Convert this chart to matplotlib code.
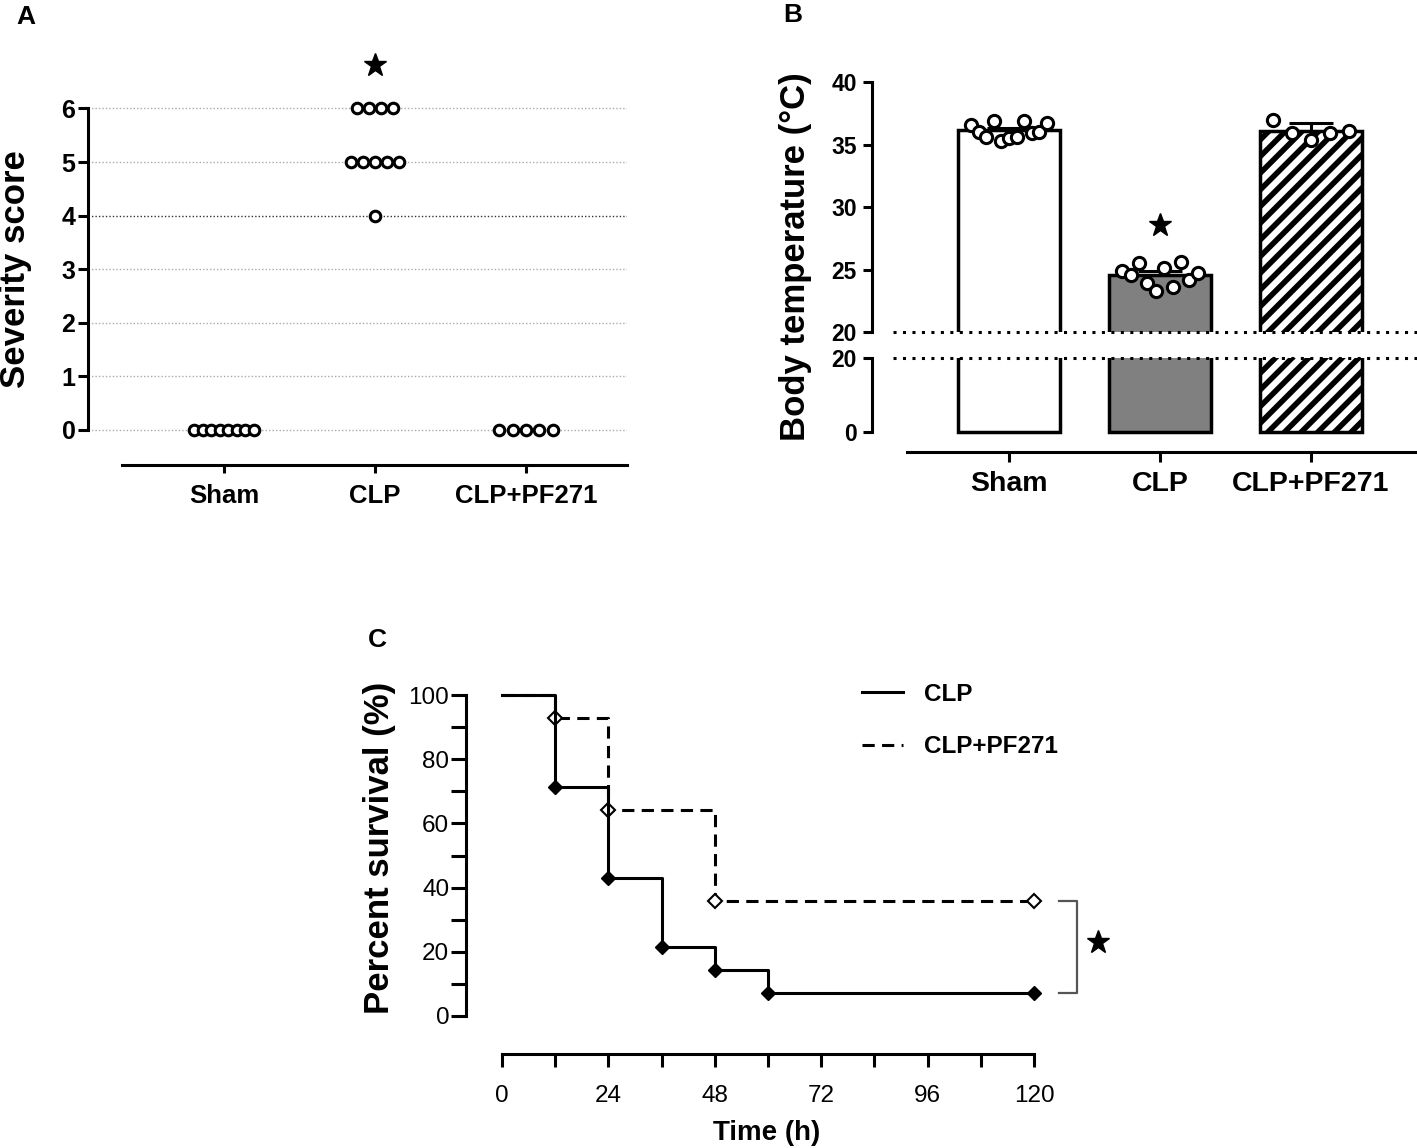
import matplotlib
matplotlib.use('Agg')
import matplotlib.pyplot as plt
import numpy as np
from matplotlib.lines import Line2D

plt.rcParams['font.family'] = ['Liberation Sans', 'DejaVu Sans']
plt.rcParams['hatch.linewidth'] = 4.0

# ------------------------- data -------------------------
# Panel A: severity score
a_groups = ['Sham', 'CLP', 'CLP+PF271']
a_sham = [0, 0, 0, 0, 0, 0, 0, 0]
a_clp = [6, 6, 6, 6, 5, 5, 5, 5, 5, 4]
a_pf = [0, 0, 0, 0, 0]
a_yticks = [0, 1, 2, 3, 4, 5, 6]

# Panel B: body temperature
b_groups = ['Sham', 'CLP', 'CLP+PF271']
b_sham = [36.6, 36.0, 35.6, 36.9, 35.3, 35.5, 35.6, 36.9, 35.9, 36.0, 36.7]
b_clp = [24.9, 24.6, 25.5, 23.9, 23.3, 25.1, 23.6, 25.6, 24.2, 24.7]
b_pf = [37.0, 35.9, 35.4, 35.9, 36.1]
b_means = [36.15, 24.6, 36.1]
b_err = [0.15, 0.3, 0.6]
b_upper_ticks = [20, 25, 30, 35, 40]
b_lower_ticks = [0, 20]

# Panel C: survival
c_clp_t = [0, 12, 24, 36, 48, 60, 120]
c_clp_s = [100, 71.4, 42.9, 21.4, 14.3, 7.1, 7.1]
c_pf_t = [0, 12, 24, 48, 120]
c_pf_s = [100, 92.9, 64.3, 35.7, 35.7]
c_xticks = [0, 24, 48, 72, 96, 120]
c_xminor = [12, 36, 60, 84, 108]
c_yticks = [0, 20, 40, 60, 80, 100]
c_yminor = [10, 30, 50, 70, 90]
c_labels = ['CLP', 'CLP+PF271']

# ------------------------- layout helpers -------------------------
W, H, DPI = 1417, 1148, 100
fig = plt.figure(figsize=(W / DPI, H / DPI), dpi=DPI)


def px_axes(l, t, r, b):
    return fig.add_axes([l / W, 1 - b / H, (r - l) / W, (b - t) / H])


def ftext(x, y, s, **kw):
    fig.text(x / W, 1 - y / H, s, **kw)


LW = 2.2
BOLD = dict(fontweight='bold')

# ------------------------- Panel A -------------------------
A_X0, A_DX = 224, 151.0
A_Y0, A_DY = 430, 53.6
axA = px_axes(88, 40, 627, 465)
axA.set_xlim((88 - A_X0) / A_DX, (627 - A_X0) / A_DX)
axA.set_ylim(-(465 - A_Y0) / A_DY, (A_Y0 - 40) / A_DY)
for s in ('top', 'right'):
    axA.spines[s].set_visible(False)
axA.spines['left'].set_linewidth(LW)
axA.spines['bottom'].set_linewidth(LW)
axA.spines['left'].set_bounds(0, 6)
axA.spines['bottom'].set_bounds((122 - A_X0) / A_DX, (627 - A_X0) / A_DX)
axA.set_yticks(a_yticks)
axA.set_yticklabels([str(v) for v in a_yticks], fontsize=18, **BOLD)
axA.set_xticks(range(3))
axA.set_xticklabels(a_groups, fontsize=18.5, **BOLD)
axA.tick_params(axis='y', length=7.5, width=LW, pad=1.5)
axA.tick_params(axis='x', length=6, width=LW, pad=8)
for v in a_yticks:
    axA.axhline(v, color='#333333' if v == 4 else '#aaaaaa', lw=1.0,
                ls=(0, (1, 1.5)), zorder=0)
a_steps = [0.056, 0.08, 0.089]
for i, (vals, step) in enumerate(zip([a_sham, a_clp, a_pf], a_steps)):
    vals = np.array(vals)
    for v in np.unique(vals):
        n = int(np.sum(vals == v))
        offs = (np.arange(n) - (n - 1) / 2) * step
        axA.plot(i + offs, np.full(n, v), 'o', mfc='white', mec='black',
                 ms=7.6, mew=2.2, ls='none', zorder=3, clip_on=False)
axA.plot(1, max(a_clp) + 0.81, marker='*', ms=17, color='black', ls='none')

# ------------------------- Panel B -------------------------
B_X0, B_DX = 1009, 151.0
axBu = px_axes(872, 40, 1417, 332)
axBl = px_axes(872, 358, 1417, 452)
bxl = ((872 - B_X0) / B_DX, (1417 - B_X0) / B_DX)
axBu.set_xlim(*bxl)
axBl.set_xlim(*bxl)
axBu.set_ylim(20, 20 + (332 - 40) / 12.5)
axBl.set_ylim(-(452 - 432) / 3.7, 20)

fills = ['white', '#808080', 'white']
hatches = ['', '', '//']
for ax in (axBu, axBl):
    bars = ax.bar(range(3), b_means, width=0.67, color=fills,
                  edgecolor='black', linewidth=2.5, zorder=2)
    for b, h in zip(bars, hatches):
        b.set_hatch(h)
    for s in ('top', 'right'):
        ax.spines[s].set_visible(False)
    ax.spines['left'].set_linewidth(LW)
    ax.spines['bottom'].set_linewidth(LW)

axBu.spines['bottom'].set_visible(False)
axBu.spines['left'].set_bounds(20, 40)
axBu.set_xticks([])
axBu.set_yticks(b_upper_ticks)
axBu.set_yticklabels([str(v) for v in b_upper_ticks], fontsize=16.5, **BOLD)
axBu.tick_params(axis='y', length=6.5, width=LW, pad=4.3)

axBl.spines['left'].set_bounds(0, 20)
axBl.spines['bottom'].set_bounds((907 - B_X0) / B_DX, bxl[1])
axBl.set_yticks(b_lower_ticks)
axBl.set_yticklabels([str(v) for v in b_lower_ticks], fontsize=16.5, **BOLD)
axBl.tick_params(axis='y', length=6.5, width=LW, pad=4.3)
axBl.set_xticks(range(3))
axBl.set_xticklabels(b_groups, fontsize=20.5, **BOLD)
axBl.tick_params(axis='x', length=7.5, width=LW, pad=6)

dot_x0 = (893 - 872) / (1417 - 872)
axBu.axhline(20, xmin=dot_x0, xmax=1, color='black', lw=2.2,
             ls=(0, (1, 2.1)), clip_on=False, zorder=5)
axBl.axhline(20, xmin=dot_x0, xmax=1, color='black', lw=2.2,
             ls=(0, (1, 2.1)), clip_on=False, zorder=5)

axBu.errorbar(range(3), b_means, yerr=[np.zeros(3), b_err], fmt='none',
              ecolor='black', elinewidth=2.2, capsize=16, capthick=2.2, zorder=3)
for i, vals in enumerate([b_sham, b_clp, b_pf]):
    n = len(vals)
    offs = np.linspace(-0.25, 0.25, n)
    axBu.plot(i + offs, vals, 'o', mfc='white', mec='black', ms=8.8, mew=2.2,
              ls='none', zorder=4)
axBu.plot(1, b_means[1] + 3.95, marker='*', ms=17, color='black', ls='none')

# ------------------------- Panel C -------------------------
C_X0, C_DX = 502, 4.433
C_Y0, C_DY = 1016, 3.21
axC = px_axes(466, 660, 1150, 1054)
axC.set_xlim((466 - C_X0) / C_DX, (1150 - C_X0) / C_DX)
axC.set_ylim(-(1054 - C_Y0) / C_DY, (C_Y0 - 660) / C_DY)
for s in ('top', 'right'):
    axC.spines[s].set_visible(False)
axC.spines['left'].set_linewidth(LW)
axC.spines['bottom'].set_linewidth(LW)
axC.spines['left'].set_bounds(0, 100)
axC.spines['bottom'].set_bounds(0, 120)
axC.set_yticks(c_yticks)
axC.set_yticks(c_yminor, minor=True)
axC.set_yticklabels([str(v) for v in c_yticks], fontsize=17.5)
axC.set_xticks(c_xticks)
axC.set_xticks(c_xminor, minor=True)
axC.set_xticklabels([str(v) for v in c_xticks], fontsize=17.5)
axC.tick_params(axis='y', which='both', length=11, width=LW, pad=1)
axC.tick_params(axis='x', which='both', length=9, width=LW, pad=13)

axC.step(c_pf_t, c_pf_s, where='post', color='black', lw=LW,
         ls=(0, (4, 2.4)), zorder=2, clip_on=False)
axC.plot(c_pf_t[1:], c_pf_s[1:], 'D', mfc='white', mec='black', ms=7.5,
         mew=1.5, ls='none', zorder=3, clip_on=False)
axC.step(c_clp_t, c_clp_s, where='post', color='black', lw=LW, zorder=4,
         clip_on=False)
axC.plot(c_clp_t[1:], c_clp_s[1:], 'D', color='black', ms=7.5, ls='none',
         zorder=5, clip_on=False)

br_x0, br_x1 = 125.6, 129.7
axC.plot([br_x0, br_x1, br_x1, br_x0], [c_pf_s[-1], c_pf_s[-1], c_clp_s[-1], c_clp_s[-1]],
         color='#555555', lw=1.6, clip_on=False)
axC.plot(134.4, (c_pf_s[-1] + c_clp_s[-1]) / 2 + 1.5, marker='*', ms=17,
         color='black', ls='none', clip_on=False)

handles = [Line2D([], [], color='black', lw=LW),
           Line2D([], [], color='black', lw=LW, ls=(0, (4, 2.4)))]
fig.legend(handles, c_labels, loc='upper left', bbox_to_anchor=(862 / W, 1 - 683 / H),
           bbox_transform=fig.transFigure, frameon=False, borderpad=0,
           borderaxespad=0, handlelength=1.7, handletextpad=0.85,
           labelspacing=1.2, prop=dict(size=17.5, weight='bold'))

# ------------------------- text labels -------------------------
ftext(26, 17, 'A', fontsize=19, ha='center', va='center', **BOLD)
ftext(793, 15, 'B', fontsize=19, ha='center', va='center', **BOLD)
ftext(377, 640, 'C', fontsize=19, ha='center', va='center', **BOLD)
ftext(16, 269, 'Severity score', fontsize=25, rotation=90, ha='center',
      va='center', **BOLD)
ftext(796, 257, 'Body temperature (°C)', fontsize=25, rotation=90, ha='center',
      va='center', **BOLD)
ftext(379, 848, 'Percent survival (%)', fontsize=25, rotation=90, ha='center',
      va='center', **BOLD)
ftext(767, 1133, 'Time (h)', fontsize=20, ha='center', va='center', **BOLD)

fig.savefig('out.png', dpi=DPI)
